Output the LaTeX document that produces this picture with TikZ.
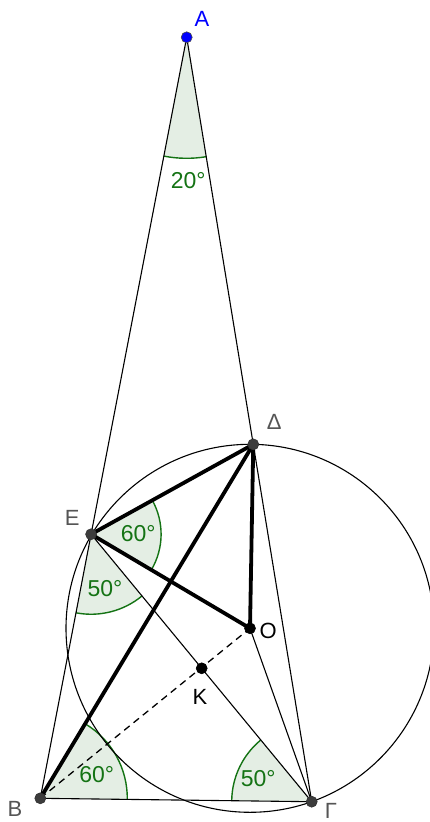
\documentclass[tikz,border=0pt]{standalone}
\usepackage{fontspec}
\setmainfont{Liberation Sans}
\usetikzlibrary{angles,calc}
\definecolor{angfill}{RGB}{228,238,228}
\definecolor{angline}{RGB}{20,115,20}
\definecolor{labgray}{RGB}{85,85,85}
\definecolor{ptgray}{RGB}{60,60,60}
\begin{document}
\begin{tikzpicture}[x=1pt,y=-1pt,
  thinline/.style={line width=1.1pt,black},
  thickline/.style={line width=3.8pt,black,line cap=round},
  angmark/.style={draw=angline,fill=angfill,line width=1.4pt},
  angtext/.style={text=angline,font=\fontsize{23}{23}\selectfont,inner sep=0pt},
  ptlabel/.style={text=labgray,font=\fontsize{22}{22}\selectfont,inner sep=0pt},
  dot/.style={circle,fill=ptgray,draw=black!80,line width=0.6pt,inner sep=0pt,minimum size=11pt},
]
\useasboundingbox (0,0) rectangle (430,822);
% geometry
\coordinate (A) at (186.7,37.3);
\coordinate (B) at (40.3,798.3);
\coordinate (G) at (311.7,801.7);
\coordinate (D) at ($(A)!0.5325!(G)$);
\coordinate (E) at ($(A)!0.653!(B)$);
\coordinate (O) at (250,628.3);
\coordinate (K) at (201.7,668.3);
% angle sectors
\pic[angmark, angle radius=121pt] {angle=B--A--G};
\pic[angmark, angle radius=70pt] {angle=O--E--D};
\pic[angmark, angle radius=80pt] {angle=B--E--G};
\pic[angmark, angle radius=87pt] {angle=G--B--D};
\pic[angmark, angle radius=80pt] {angle=E--G--B};
% thin lines
\draw[thinline] (O) circle[radius=184pt];
\draw[thinline] (A) -- (B);
\draw[thinline] (A) -- (G);
\draw[thinline] (B) -- (G);
\draw[thinline] (E) -- (G);
\draw[thinline] (O) -- (G);
\draw[thinline, line width=1.3pt, dash pattern=on 7pt off 5pt] (B) -- (O);
% thick lines
\draw[thickline] (B) -- (D);
\draw[thickline] (E) -- (D);
\draw[thickline] (E) -- (O);
\draw[thickline] (D) -- (O);
% points
\node[dot, fill=blue, draw=black!70] (pA) at (A) {};
\node[dot] (pB) at (B) {};
\node[dot] (pG) at (G) {};
\node[dot] (pD) at (D) {};
\node[dot] (pE) at (E) {};
\node[dot, fill=black, draw=black] (pO) at (O) {};
\node[dot, fill=black, draw=black] (pK) at (K) {};
% point labels
\node[ptlabel, text=blue] (lA) at (202,18.5) {A};
\node[ptlabel] (lD) at (274.3,421.7) {Δ};
\node[ptlabel] (lE) at (72.3,518.3) {E};
\node[ptlabel, text=black] (lO) at (268.3,630.7) {O};
\node[ptlabel, text=black] (lK) at (200,697.3) {K};
\node[ptlabel] (lB) at (15,809) {B};
\node[ptlabel] (lG) at (331,810.5) {Γ};
% angle labels
\node[angtext] (tA) at (188.3,180.5) {20°};
\node[angtext] (tE1) at (138.3,533.5) {60°};
\node[angtext] (tE2) at (105,588.5) {50°};
\node[angtext] (tB) at (96.7,775) {60°};
\node[angtext] (tG) at (258.3,779) {50°};
\end{tikzpicture}
\end{document}
